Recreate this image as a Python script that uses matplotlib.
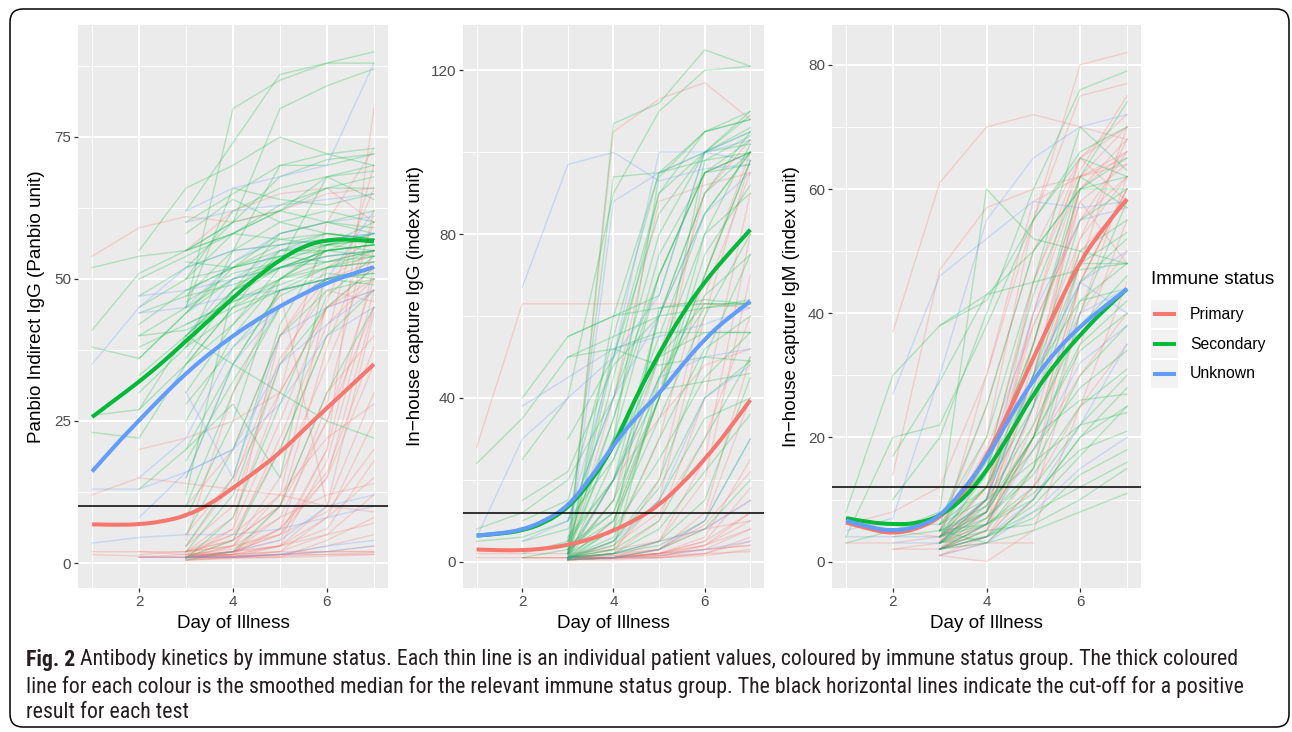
import matplotlib
matplotlib.use("Agg")
import matplotlib.pyplot as plt
from matplotlib.patches import FancyBboxPatch, Rectangle, PathPatch
from matplotlib.path import Path
from matplotlib import font_manager as fm

# ---------------- data ----------------
groups = ["Primary", "Secondary", "Unknown"]
group_colors = ["#F8766D", "#00BA38", "#619CFF"]

x_ticks = [2, 4, 6]
smooth_days = [1, 1.5, 2, 2.5, 3, 3.5, 4, 4.5, 5, 5.5, 6, 6.5, 7]

# smoothed medians
panbio_primary_smooth = [6.8, 6.7, 6.8, 7.3, 8.3, 10.3, 13.2, 16.2, 19.4, 23.4, 27.3, 31.1, 35.0]
panbio_secondary_smooth = [25.7, 28.8, 31.9, 35.3, 39.1, 42.8, 46.7, 50.3, 53.4, 55.8, 56.9, 57.0, 56.6]
panbio_unknown_smooth = [16.1, 20.8, 25.1, 29.4, 33.4, 36.9, 40.0, 42.8, 45.2, 47.4, 49.3, 50.8, 52.1]

igg_primary_smooth = [3.0, 2.8, 2.8, 3.2, 4.1, 5.5, 7.6, 10.3, 13.8, 19.0, 25.0, 31.8, 39.5]
igg_secondary_smooth = [6.4, 6.8, 7.6, 9.5, 13.1, 19.5, 28.0, 40.5, 50.9, 60.5, 68.4, 75.0, 81.1]
igg_unknown_smooth = [6.4, 6.9, 7.8, 10.0, 13.5, 20.5, 28.5, 35.5, 41.0, 48.0, 54.4, 59.5, 63.6]

igm_primary_smooth = [6.3, 5.2, 4.5, 5.2, 7.0, 11.0, 16.8, 24.5, 32.8, 40.8, 48.4, 53.8, 58.4]
igm_secondary_smooth = [7.0, 6.3, 6.0, 6.1, 7.3, 10.0, 14.5, 20.5, 27.0, 32.2, 36.5, 40.5, 43.9]
igm_unknown_smooth = [6.6, 5.5, 4.9, 5.5, 7.2, 11.5, 16.5, 23.3, 29.3, 34.1, 37.9, 41.0, 43.9]

# individual patients: first number = first day of illness sampled, then daily values
panbio_primary_patients = [
    [1, 54, 59, 61, 60, 62, 65, 66], [1, 12, 15, 14, 13, 12, 10, 9], [1, 2, 2, 1.5, 1.5, 2, 2, 2],
    [1, 1.5, 1.2, 1, 1.2, 1.5, 1.5, 1.5], [2, 1, 1, 1.5, 3, 8, 15], [2, 2, 2, 4, 10, 25, 45],
    [2, 1, 1.5, 2, 5, 20, 52], [2, 20, 22, 25, 30, 45, 50], [3, 1, 1.5, 3, 10, 30],
    [3, 1, 2, 8, 25, 50], [3, 0.8, 1, 2, 5, 12], [3, 1, 3, 15, 35, 55], [3, 2, 6, 25, 45, 52],
    [3, 1, 1, 1.5, 2, 3], [3, 0.5, 0.8, 1, 1.2, 1.5], [3, 1.5, 5, 20, 40, 70], [3, 1, 2, 4, 20, 80],
    [3, 3, 10, 35, 50, 55], [3, 2, 4, 10, 30, 40], [3, 1, 1.5, 2, 8, 25], [3, 10, 20, 40, 50, 53],
    [3, 1, 1, 1, 4, 8], [3, 1.2, 2, 3, 6, 18], [3, 5, 15, 30, 45, 48], [3, 1, 1.5, 6, 15, 35],
    [3, 0.6, 1, 1.5, 3, 5], [3, 2, 8, 30, 60, 73], [3, 55, 62, 65, 66, 60], [3, 1, 1.2, 1.5, 2, 2],
    [3, 4, 30, 48, 10, 44], [3, 1, 6, 40, 52, 57], [3, 2, 3, 12, 46, 66],
    [3, 1, 2, 5, 15, 45], [3, 1, 1.5, 10, 38, 60], [3, 2, 5, 12, 22, 28], [3, 1, 3, 8, 12, 14],
    [3, 0.5, 1, 3, 18, 48], [3, 1, 4, 22, 42, 50], [3, 1.5, 2.5, 6, 28, 62], [2, 1, 1, 2, 6, 16, 38],
    [2, 1.5, 2, 3, 5, 9, 20], [3, 1, 1, 1.2, 1.5, 1.8], [3, 3, 14, 36, 48, 46], [3, 1, 2, 3, 5, 7],
]
panbio_secondary_patients = [
    [1, 52, 54, 55, 60, 62, 60, 58], [1, 41, 51, 55, 58, 57, 58, 57], [1, 26, 27, 40, 48, 52, 55, 56],
    [1, 23, 22, 35, 45, 55, 56, 58], [1, 38, 36, 44, 52, 58, 60, 62], [2, 55, 66, 70, 75, 72, 70],
    [2, 47, 52, 60, 68, 71, 72], [2, 40, 45, 80, 85, 88, 90], [2, 42, 48, 52, 56, 58, 57],
    [2, 38, 42, 46, 50, 55, 54], [2, 45, 50, 52, 54, 55, 56], [2, 30, 38, 48, 52, 54, 55],
    [2, 27, 35, 42, 50, 52, 53], [2, 13, 20, 35, 48, 50, 52], [2, 50, 54, 58, 62, 66, 68],
    [3, 62, 74, 86, 88, 88], [3, 55, 60, 80, 84, 87], [3, 60, 65, 70, 70, 72], [3, 52, 55, 56, 57, 57],
    [3, 48, 52, 55, 55, 56], [3, 45, 50, 52, 54, 55], [3, 40, 48, 54, 56, 57], [3, 35, 45, 50, 53, 55],
    [3, 30, 42, 52, 55, 58], [3, 25, 40, 50, 56, 60], [3, 15, 35, 48, 52, 55], [3, 10, 30, 45, 50, 52],
    [3, 5, 20, 40, 48, 50], [3, 2, 12, 35, 45, 52], [3, 1, 4, 20, 40, 48], [3, 0.5, 2, 10, 30, 45],
    [3, 55, 58, 62, 68, 70], [3, 50, 62, 66, 68, 64], [3, 58, 64, 60, 62, 60], [3, 38, 55, 70, 72, 73],
    [3, 20, 28, 15, 52, 54], [3, 40, 35, 30, 25, 22], [3, 45, 66, 64, 63, 65], [3, 53, 52, 54, 53, 55],
    [3, 12, 48, 58, 60, 59],
    [2, 36, 44, 50, 53, 56, 57], [2, 33, 40, 47, 52, 55, 56], [2, 40, 41, 45, 48, 50, 51],
    [2, 44, 47, 49, 52, 53, 54], [3, 42, 46, 49, 52, 53], [3, 38, 44, 48, 50, 51], [3, 44, 53, 57, 56, 55],
    [3, 47, 55, 60, 58, 57], [3, 50, 58, 63, 66, 66], [3, 36, 48, 55, 58, 57], [3, 28, 38, 47, 51, 50],
    [3, 18, 32, 45, 50, 49], [3, 8, 25, 50, 55, 56], [3, 3, 15, 42, 56, 58], [3, 0.8, 8, 28, 47, 54],
    [3, 46, 51, 53, 68, 69],
]
panbio_unknown_patients = [
    [1, 35, 45, 52, 55, 56, 57, 58], [1, 13, 13, 16, 20, 28, 40, 45], [1, 3.5, 4.5, 5, 5, 6, 8, 10],
    [2, 47, 48, 50, 52, 54, 55], [2, 44, 45, 47, 48, 50, 62], [2, 8, 16, 20, 35, 42, 48],
    [2, 1, 1, 1.2, 1.5, 3, 4], [3, 62, 66, 68, 70, 88], [3, 60, 62, 63, 64, 65], [3, 40, 50, 55, 57, 58],
    [3, 15, 35, 45, 50, 52], [3, 1, 2, 4, 10, 12], [3, 1, 1, 1.5, 2, 3], [3, 30, 15, 40, 45, 48],
    [3, 45, 53, 58, 60, 61], [2, 15, 22, 38, 45, 50, 52],
]

igg_primary_patients = [
    [1, 28, 63, 63, 63, 63, 63, 62], [1, 2, 2, 2, 3, 5, 8, 10], [1, 1, 1, 1, 1.5, 2, 3, 4],
    [2, 1, 1, 1, 2, 5, 12], [3, 1, 105, 113, 117, 108], [3, 1, 1, 2, 5, 18], [3, 0.5, 1, 3, 10, 40],
    [3, 1, 2, 10, 40, 90], [3, 0.5, 0.8, 1, 2, 5], [3, 1, 1, 1.5, 3, 8], [3, 1, 5, 30, 70, 100],
    [3, 0.5, 1, 2, 6, 25], [3, 2, 15, 50, 90, 103], [3, 1, 1, 1, 1.5, 3], [3, 0.5, 0.5, 1, 2, 6],
    [3, 1, 3, 15, 60, 98], [3, 1, 2, 5, 20, 70], [3, 1, 1.5, 3, 8, 15], [3, 0.8, 1, 1.2, 4, 10],
    [3, 1, 10, 40, 95, 100], [3, 2, 40, 88, 92, 95], [3, 1, 1, 2, 3, 4], [3, 0.5, 1, 1.5, 2, 2.5],
    [3, 1, 4, 12, 30, 60], [3, 2, 20, 35, 48, 52],
    [3, 1, 2, 3, 12, 50], [3, 0.5, 1, 5, 25, 80], [3, 1, 1, 3, 9, 22], [3, 1, 2, 20, 65, 95],
    [3, 0.5, 1, 2, 4, 12], [2, 1, 1, 1, 2, 4, 8],
]
igg_secondary_patients = [
    [1, 24, 35, 50, 55, 60, 62, 63], [1, 8, 12, 20, 40, 70, 95, 100], [1, 5, 6, 10, 25, 50, 80, 90],
    [2, 40, 55, 60, 62, 63, 63], [2, 25, 40, 90, 110, 120, 121], [2, 10, 15, 55, 95, 105, 108],
    [2, 5, 8, 30, 70, 95, 100], [2, 2, 5, 20, 60, 90, 105], [2, 1, 3, 10, 40, 70, 98],
    [3, 2, 107, 112, 125, 121], [3, 1, 60, 95, 100, 110], [3, 3, 45, 90, 100, 105],
    [3, 5, 35, 70, 95, 103], [3, 1, 25, 55, 85, 100], [3, 2, 15, 40, 70, 98], [3, 1, 10, 35, 60, 80],
    [3, 0.5, 5, 20, 50, 75], [3, 1, 8, 25, 45, 56], [3, 2, 20, 50, 63, 63], [3, 1, 3, 10, 30, 50],
    [3, 0.5, 2, 5, 15, 45], [3, 1, 4, 15, 35, 40], [3, 10, 40, 80, 100, 109], [3, 55, 60, 65, 100, 102],
    [3, 50, 52, 56, 56, 56], [3, 30, 50, 90, 105, 108], [3, 5, 94, 95, 98, 100], [3, 2, 30, 94, 105, 110],
    [3, 0.5, 1, 3, 8, 20], [3, 1, 2, 4, 10, 30], [3, 3, 12, 45, 65, 75], [3, 1, 6, 30, 52, 60],
    [3, 4, 52, 48, 50, 49], [3, 2, 8, 62, 64, 63], [3, 1, 3, 44, 98, 104], [3, 6, 20, 42, 44, 46],
    [3, 1, 15, 60, 90, 100], [3, 2, 35, 75, 95, 97], [3, 1, 20, 45, 62, 64], [3, 3, 30, 50, 56, 56],
    [3, 1, 5, 18, 40, 49], [2, 3, 4, 12, 40, 80, 102], [3, 0.5, 8, 40, 75, 92], [3, 2, 50, 85, 100, 106],
    [3, 1, 2, 8, 22, 36], [2, 15, 22, 48, 60, 85, 100],
]
igg_unknown_patients = [
    [2, 67, 97, 100, 93, 96, 97], [1, 6, 30, 40, 50, 65, 100, 105], [2, 38, 45, 52, 55, 58, 62],
    [2, 5, 10, 50, 100, 100, 98], [3, 2, 88, 95, 100, 103], [3, 1, 20, 45, 50, 52], [3, 1, 5, 15, 40, 48],
    [3, 0.5, 1, 3, 10, 30], [3, 1, 2, 5, 8, 15], [3, 10, 40, 60, 85, 95], [3, 1, 1, 1.5, 3, 5],
]

igm_primary_patients = [
    [2, 37, 61, 70, 72, 70, 68], [2, 14, 47, 57, 60, 62, 65], [1, 6, 8, 12, 30, 55, 80, 82],
    [1, 3, 3, 4, 10, 40, 65, 70], [1, 7, 5, 4, 8, 20, 45, 60], [2, 2, 3, 10, 35, 60, 66],
    [3, 3, 8, 30, 60, 68], [3, 2, 5, 25, 52, 62], [3, 4, 12, 40, 62, 66], [3, 1, 4, 15, 45, 60],
    [3, 2, 3, 10, 35, 55], [3, 5, 20, 55, 75, 77], [3, 3, 6, 20, 40, 50], [3, 2, 10, 35, 58, 64],
    [3, 1, 0, 5, 25, 45], [3, 3, 15, 45, 65, 72], [3, 2, 7, 18, 30, 40], [3, 4, 9, 28, 50, 58],
    [3, 2, 4, 12, 25, 35], [3, 1, 3, 3], [3, 3, 30, 58, 62, 64], [3, 2, 6, 22, 48, 70],
    [3, 5, 18, 38, 55, 62], [3, 3, 10, 45, 63, 75], [3, 2, 8, 32, 52, 68],
    [3, 2, 5, 20, 45, 60], [3, 3, 12, 38, 55, 66], [3, 4, 8, 25, 62, 70], [3, 2, 6, 30, 58, 48],
    [3, 5, 25, 50, 65, 58], [2, 2, 2, 4, 12, 40, 62],
]
igm_secondary_patients = [
    [1, 8, 30, 38, 43, 50, 60, 62], [1, 4, 20, 22, 38, 55, 66, 70], [1, 3, 5, 7, 15, 35, 62, 74],
    [2, 17, 29, 43, 45, 47, 48], [2, 10, 20, 40, 60, 76, 79], [2, 5, 8, 60, 52, 50, 48],
    [2, 6, 6, 12, 30, 55, 60], [3, 3, 10, 30, 50, 55], [3, 4, 8, 20, 35, 42], [3, 5, 6, 10, 20, 28],
    [3, 2, 4, 8, 12, 16], [3, 3, 5, 6, 10, 15], [3, 6, 15, 35, 60, 65], [3, 4, 12, 25, 45, 52],
    [3, 3, 7, 15, 30, 38], [3, 5, 3, 10, 20, 25], [3, 2, 3, 5, 8, 11], [3, 7, 20, 45, 70, 63],
    [3, 4, 10, 22, 38, 46], [3, 3, 6, 12, 22, 30], [3, 2, 5, 15, 40, 58], [3, 5, 9, 18, 28, 34],
    [3, 38, 42, 55, 65, 62], [3, 6, 25, 50, 60, 60], [3, 3, 4, 7, 14, 18], [3, 4, 14, 30, 42, 44],
    [3, 3, 8, 25, 48, 53], [3, 2, 6, 11, 18, 21], [3, 5, 16, 43, 62, 57], [3, 4, 6, 20, 26, 27],
    [3, 4, 7, 14, 25, 31], [3, 3, 9, 20, 34, 40], [3, 5, 12, 28, 48, 48], [3, 2, 4, 9, 17, 25],
    [3, 6, 10, 16, 22, 24], [2, 4, 5, 8, 20, 42, 48],
]
igm_unknown_patients = [
    [2, 27, 46, 52, 58, 57, 58], [1, 5, 7, 30, 55, 65, 70, 72], [1, 4, 4, 4, 10, 30, 45, 50],
    [2, 3, 3, 8, 25, 40, 44], [3, 3, 10, 30, 45, 40], [3, 2, 6, 18, 32, 38], [3, 1, 3, 8, 15, 20],
    [3, 4, 15, 40, 55, 57], [3, 2, 4, 10, 22, 35],
]

panel_ylabels = ["Panbio Indirect IgG (Panbio unit)",
                 "In\u2212house capture IgG (index unit)",
                 "In\u2212house capture IgM (index unit)"]
panel_cutoffs = [10, 12, 12]
panel_yticks = [[0, 25, 50, 75], [0, 40, 80, 120], [0, 20, 40, 60, 80]]
panel_yminor = [[12.5, 37.5, 62.5, 87.5], [20, 60, 100], [10, 30, 50, 70]]
panel_ylims = [(-4.4, 94.8), (-6.4, 131.2), (-4.25, 86.5)]
x_label = "Day of Illness"
legend_title = "Immune status"
caption_bold = "Fig. 2"
caption_lines = [
    " Antibody kinetics by immune status. Each thin line is an individual patient values, coloured by immune status group. The thick coloured",
    "line for each colour is the smoothed median for the relevant immune status group. The black horizontal lines indicate the cut-off for a positive",
    "result for each test",
]

panels = [
    ([panbio_primary_patients, panbio_secondary_patients, panbio_unknown_patients],
     [panbio_primary_smooth, panbio_secondary_smooth, panbio_unknown_smooth]),
    ([igg_primary_patients, igg_secondary_patients, igg_unknown_patients],
     [igg_primary_smooth, igg_secondary_smooth, igg_unknown_smooth]),
    ([igm_primary_patients, igm_secondary_patients, igm_unknown_patients],
     [igm_primary_smooth, igm_secondary_smooth, igm_unknown_smooth]),
]

# ---------------- fonts ----------------
available = {f.name for f in fm.fontManager.ttflist}
MAIN = "Liberation Sans" if "Liberation Sans" in available else "DejaVu Sans"
CAP = "DejaVu Sans"
for cand in ["Liberation Sans Narrow", "Roboto Condensed", "Open Sans Condensed", "DejaVu Sans Condensed"]:
    if cand in available:
        CAP = cand
        break
plt.rcParams["font.family"] = [MAIN, "DejaVu Sans"]

# ---------------- figure ----------------
W, H = 1292, 732
fig = plt.figure(figsize=(W / 100, H / 100), dpi=100)
fig.patch.set_facecolor("white")

PT, PB = 24.5, 588.0
panel_px = [(78, 388), (463, 764), (832, 1141)]
ylabel_x = [37, 415, 791]

def frac_rect(l, r):
    return [l / W, (H - PB) / H, (r - l) / W, (PB - PT) / H]

def smooth_path(xs, ys):
    # quadratic B-spline style path using the read points as control points
    verts = [(xs[0], ys[0])]
    codes = [Path.MOVETO]
    n = len(xs)
    for k in range(1, n - 1):
        mx = (xs[k] + xs[k + 1]) / 2.0
        my = (ys[k] + ys[k + 1]) / 2.0
        if k == n - 2:
            mx, my = xs[k + 1], ys[k + 1]
        verts += [(xs[k], ys[k]), (mx, my)]
        codes += [Path.CURVE3, Path.CURVE3]
    return Path(verts, codes)

for i, (pats, smooths) in enumerate(panels):
    l, r = panel_px[i]
    ax = fig.add_axes(frac_rect(l, r))
    ax.set_facecolor("#EBEBEB")
    for s in ax.spines.values():
        s.set_visible(False)
    ax.set_xlim(0.7, 7.3)
    ax.set_ylim(*panel_ylims[i])
    ax.set_xticks(x_ticks)
    ax.set_xticks([1, 3, 5, 7], minor=True)
    ax.set_yticks(panel_yticks[i])
    ax.set_yticks(panel_yminor[i], minor=True)
    ax.grid(which="major", color="white", lw=1.4, zorder=0)
    ax.grid(which="minor", color="white", lw=0.7, zorder=0)
    ax.set_axisbelow(True)
    ax.tick_params(which="major", length=3, width=0.9, color="#333333",
                   labelcolor="#4D4D4D", labelsize=11, pad=2)
    ax.tick_params(which="minor", length=0)

    for g in range(3):
        for p in pats[g]:
            start = p[0]
            vals = p[1:]
            xs = list(range(start, start + len(vals)))
            ax.plot(xs, vals, color=group_colors[g], lw=1.0, alpha=0.26, zorder=2)
    for g in range(3):
        ax.add_patch(PathPatch(smooth_path(smooth_days, smooths[g]), facecolor="none",
                               edgecolor=group_colors[g], lw=2.9, capstyle="butt", zorder=4))
    ax.axhline(panel_cutoffs[i], color="black", lw=1.1, zorder=5)

# ---------------- overlay (pixel coordinates) ----------------
ov = fig.add_axes([0, 0, 1, 1], facecolor="none")
ov.set_xlim(0, W)
ov.set_ylim(H, 0)
ov.axis("off")

for i in range(3):
    l, r = panel_px[i]
    ov.text(ylabel_x[i], (PT + PB) / 2, panel_ylabels[i], rotation=90,
            ha="center", va="center", fontsize=13.6, color="black")
    ov.text((l + r) / 2, 623, x_label, ha="center", va="center",
            fontsize=13.6, color="black")

# legend
ov.text(1151, 280, legend_title, ha="left", va="center", fontsize=13.6, color="black")
key_tops = [300, 330, 360]
for g in range(3):
    t = key_tops[g]
    ov.add_patch(Rectangle((1151, t), 27, 28, facecolor="#F2F2F2", edgecolor="none"))
    ov.plot([1153, 1176], [t + 14, t + 14], color=group_colors[g], lw=2.9, solid_capstyle="butt")
    ov.text(1190, t + 14, groups[g], ha="left", va="center", fontsize=11.3, color="black")

# outer rounded frame
ov.add_patch(FancyBboxPatch((10, 9), 1279, 718, boxstyle="round,pad=0,rounding_size=13",
                            facecolor="none", edgecolor="black", lw=1.1))

# caption
renderer = fig.canvas.get_renderer()
cap_color = "#231F20"
fs = 14.0
tb = ov.text(26, 660, caption_bold, fontweight="bold", family=[CAP, "DejaVu Sans"],
             fontsize=fs, ha="left", va="center", color=cap_color)
t1 = ov.text(26, 660, caption_lines[0], family=[CAP, "DejaVu Sans"], fontsize=fs,
             ha="left", va="center", color=cap_color)
wtot = tb.get_window_extent(renderer).width + t1.get_window_extent(renderer).width
fs = fs * 1224.0 / wtot
tb.set_fontsize(fs)
t1.set_fontsize(fs)
wb = tb.get_window_extent(renderer).width
t1.set_x(26 + wb)
ov.text(26, 686.5, caption_lines[1], family=[CAP, "DejaVu Sans"], fontsize=fs,
        ha="left", va="center", color=cap_color)
ov.text(26, 712, caption_lines[2], family=[CAP, "DejaVu Sans"], fontsize=fs,
        ha="left", va="center", color=cap_color)

fig.savefig("out.png", dpi=100, facecolor="white")
